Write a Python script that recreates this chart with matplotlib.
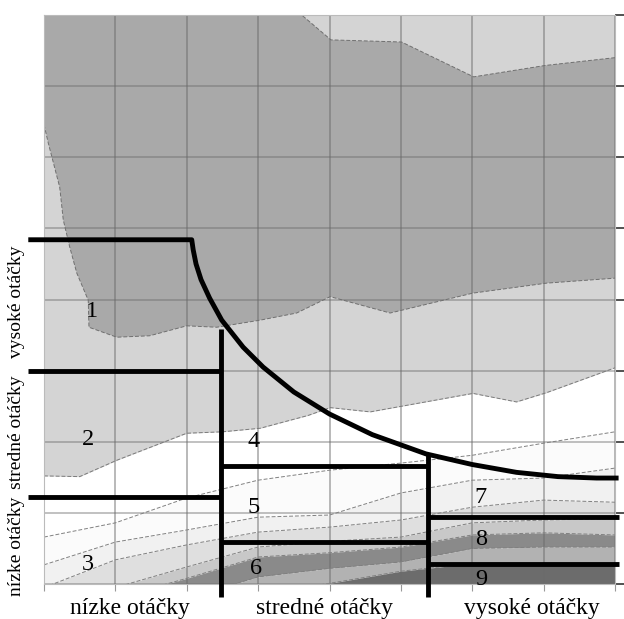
import numpy as np
import matplotlib
matplotlib.use("Agg")
import matplotlib.pyplot as plt

# grid columns used for the lower contour bands
cols = [0, 1, 2, 3, 4, 5, 6, 7, 8]

# dark region "1" outline (left/bottom edge, then top-right edge)
r1_low_x = [0, 0.06, 0.22, 0.27, 0.36, 0.46, 0.62, 0.63, 1.02, 1.48, 2.00, 2.42,
            3.03, 3.54, 4.01, 4.85, 6.01, 7.04, 8.0]
r1_low_y = [6.46, 6.20, 5.58, 5.12, 4.74, 4.37, 3.99, 3.61, 3.47, 3.49, 3.63, 3.61,
            3.71, 3.81, 4.04, 3.81, 4.09, 4.23, 4.30]
r1_top_x = [8.0, 7.02, 6.02, 5.01, 4.02, 3.61]
r1_top_y = [7.40, 7.29, 7.13, 7.62, 7.65, 8.0]

# lower edge of the light grey band "2"
r2_x = [0, 0.5, 1.02, 2.0, 2.5, 3.03, 3.7, 4.01, 4.57, 6.01, 6.62, 7.04, 8]
r2_y = [1.52, 1.51, 1.74, 2.12, 2.14, 2.19, 2.37, 2.48, 2.42, 2.68, 2.56, 2.69, 3.04]

# contour lines in the lower part (value at each grid column)
line_a = [0.66, 0.86, 1.21, 1.46, 1.60, 1.70, 1.81, 1.98, 2.14]
line_b = [0.27, 0.59, 0.76, 0.94, 0.97, 1.28, 1.46, 1.49, 1.63]
line_c = [-0.05, 0.34, 0.55, 0.73, 0.80, 0.90, 1.08, 1.18, 1.15]
line_d = [-0.70, -0.05, 0.24, 0.52, 0.60, 0.66, 0.86, 0.90, 0.92]
line_e = [-0.90, -0.20, 0.08, 0.38, 0.44, 0.52, 0.69, 0.72, 0.69]
line_f = [-1.10, -0.50, -0.20, 0.10, 0.22, 0.31, 0.50, 0.52, 0.52]
line_g = [-1.30, -0.80, -0.50, -0.15, 0.01, 0.18, 0.29, 0.29, 0.29]
band_colors = ["#fbfbfb", "#f1f1f1", "#dfdfdf", "#c8c8c8", "#8a8a8a", "#b2b2b2", "#6c6c6c"]

# full-load curve (thick black)
curve_x = [-0.22, 2.07, 2.09, 2.13, 2.20, 2.32, 2.49, 2.79, 3.07, 3.5, 4.0, 4.6,
           5.35, 6.0, 6.62, 7.2, 7.74, 8.05]
curve_y = [4.84, 4.84, 4.70, 4.50, 4.28, 4.02, 3.71, 3.33, 3.05, 2.70, 2.39, 2.10,
           1.83, 1.68, 1.57, 1.51, 1.49, 1.49]

# zone dividers: (x_start, x_end, y) and (x, y_start, y_end)
h_dividers = [(-0.22, 2.48, 3.0), (-0.22, 2.48, 1.22), (2.48, 5.38, 1.66),
              (2.48, 5.38, 0.59), (5.38, 8.05, 0.94), (5.38, 8.05, 0.28)]
v_dividers = [(2.48, 3.59, -0.18), (5.38, 1.81, -0.18)]

zone_labels = ["1", "2", "3", "4", "5", "6", "7", "8", "9"]
zone_x = [0.67, 0.62, 0.62, 2.93, 2.93, 2.97, 6.12, 6.13, 6.13]
zone_y = [3.83, 2.03, 0.27, 2.00, 1.07, 0.22, 1.22, 0.62, 0.06]

x_names = ["nízke otáčky", "stredné otáčky", "vysoké otáčky"]
x_name_pos = [1.20, 3.93, 6.83]
y_names = ["nízke otáčky", "stredné otáčky", "vysoké otáčky"]
y_name_pos = [0.53, 2.14, 3.97]

serif = "Liberation Serif"
lw_black = 3.5

fig = plt.figure(figsize=(6.24, 6.19), dpi=100)
ax = fig.add_axes([0.0705, 0.0565, 0.9151, 0.9193])
ax.set_xlim(0, 8)
ax.set_ylim(0, 8)

# light grey base above band 2 edge
ax.fill_between(r2_x, r2_y, 8, color="#d4d4d4", lw=0, zorder=1)

# dark region 1
poly_x = [0] + r1_low_x + r1_top_x
poly_y = [8] + r1_low_y + r1_top_y
ax.fill(poly_x, poly_y, color="#a9a9a9", lw=0, zorder=1)

# lower bands
bounds = [line_a, line_b, line_c, line_d, line_e, line_f, line_g, [-2] * 9]
for upper, lower, c in zip(bounds[:-1], bounds[1:], band_colors):
    ax.fill_between(cols, lower, upper, color=c, lw=0, zorder=1)

dash = (0, (4, 2))
ax.plot(r1_low_x, r1_low_y, color="#6f6f6f", lw=0.7, ls=dash, zorder=2)
ax.plot(r1_top_x, r1_top_y, color="#6f6f6f", lw=0.7, ls=dash, zorder=2)
ax.plot(r2_x, r2_y, color="#7a7a7a", lw=0.7, ls=dash, zorder=2)
for ln in bounds[:-1]:
    ax.plot(cols, ln, color="#808080", lw=0.7, ls=dash, zorder=2)

# grid
ax.set_xticks(range(9))
ax.set_yticks(range(9))
ax.xaxis.grid(True, color="#6a6a6a", lw=1.1, alpha=0.6)
ax.yaxis.grid(True, color="#6a6a6a", lw=1.4, alpha=0.42)
ax.tick_params(axis="x", length=5, color="#999999", labelbottom=False)
ax.yaxis.tick_right()
ax.tick_params(axis="y", length=7, width=1.2, color="#333333", labelright=False)
for s in ax.spines.values():
    s.set_color("#bbbbbb")
    s.set_linewidth(0.8)

# thick black lines
ax.plot(curve_x, curve_y, color="black", lw=lw_black, clip_on=False, zorder=4,
        solid_joinstyle="round", solid_capstyle="butt")
for x0, x1, y in h_dividers:
    ax.plot([x0, x1], [y, y], color="black", lw=lw_black, clip_on=False, zorder=4,
            solid_capstyle="butt")
for x, y0, y1 in v_dividers:
    ax.plot([x, x], [y0, y1], color="black", lw=lw_black, clip_on=False, zorder=4,
            solid_capstyle="butt")

for lab, x, y in zip(zone_labels, zone_x, zone_y):
    ax.text(x, y, lab, fontsize=17.5, family=serif, ha="center", va="center", zorder=5)

for name, x in zip(x_names, x_name_pos):
    ax.text(x, -0.34, name, fontsize=17, family=serif, ha="center", va="center",
            clip_on=False)
for name, y in zip(y_names, y_name_pos):
    ax.text(-0.39, y, name, fontsize=14, family=serif, ha="center", va="center",
            rotation=90, clip_on=False)

fig.savefig("out.png", dpi=100)
